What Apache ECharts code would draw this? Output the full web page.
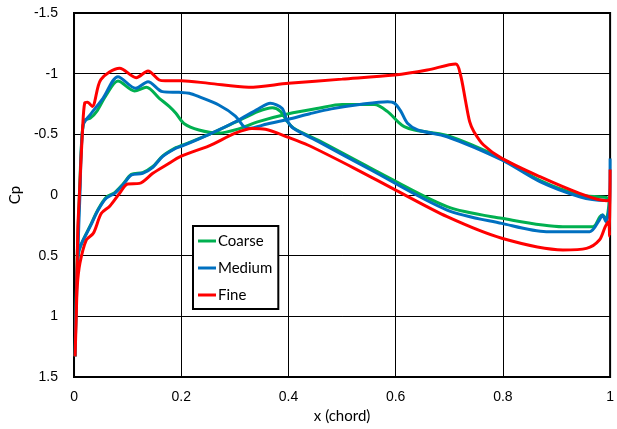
<!DOCTYPE html>
<html>
<head>
<meta charset="utf-8">
<script src="https://cdn.jsdelivr.net/npm/echarts@6/dist/echarts.min.js"></script>
<style>
html,body{margin:0;padding:0;background:#fff;}
#c{width:617px;height:429px;}
</style>
</head>
<body>
<div id="c"></div>
<script>
// Tick values
var xTicks = [0, 0.2, 0.4, 0.6, 0.8, 1];
var yTicks = [-1.5, -1, -0.5, 0, 0.5, 1, 1.5];
var seriesNames = ['Coarse', 'Medium', 'Fine'];

// Coarse grid: lower surface (LE -> TE), then upper surface (TE -> LE), [x, Cp]
var coarseLower = [
  [0.002,1.33],[0.005,0.72],[0.008,0.49],[0.014,0.40],[0.03,0.255],[0.045,0.118],[0.06,0.02],
  [0.076,-0.02],[0.091,-0.088],[0.107,-0.17],[0.128,-0.185],[0.147,-0.235],[0.165,-0.32],
  [0.19,-0.39],[0.202,-0.41],[0.252,-0.5],[0.301,-0.6],[0.344,-0.69],[0.37,-0.72],
  [0.385,-0.69],[0.397,-0.61],[0.41,-0.55],[0.456,-0.45],[0.554,-0.22],[0.696,0.096],
  [0.798,0.192],[0.912,0.261],[0.968,0.261],[0.981,0.179],[0.986,0.165],[0.992,0.2],[0.998,0.05]
];
var coarseUpper = [
  [0.993,0.02],[0.943,0.0],[0.869,-0.12],[0.798,-0.30],[0.696,-0.49],[0.635,-0.536],
  [0.616,-0.563],[0.604,-0.604],[0.585,-0.687],[0.56,-0.745],[0.5,-0.745],[0.456,-0.715],
  [0.4,-0.67],[0.344,-0.605],[0.307,-0.545],[0.27,-0.51],[0.233,-0.536],[0.205,-0.59],
  [0.19,-0.673],[0.178,-0.728],[0.159,-0.797],[0.135,-0.888],[0.113,-0.857],[0.082,-0.94],
  [0.06,-0.824],[0.042,-0.687],[0.03,-0.632],[0.02,-0.618],[0.015,-0.5],[0.01,0.0],
  [0.006,0.5],[0.003,1.1]
];

// Medium grid
var mediumLower = [
  [0.002,1.33],[0.005,0.7],[0.008,0.48],[0.014,0.40],[0.03,0.261],[0.045,0.124],[0.06,0.027],
  [0.076,-0.014],[0.091,-0.082],[0.107,-0.165],[0.128,-0.179],[0.147,-0.228],[0.165,-0.316],
  [0.19,-0.385],[0.202,-0.404],[0.252,-0.5],[0.301,-0.604],[0.344,-0.71],[0.366,-0.756],
  [0.388,-0.715],[0.397,-0.618],[0.409,-0.55],[0.456,-0.44],[0.554,-0.206],[0.696,0.124],
  [0.798,0.234],[0.881,0.302],[0.962,0.302],[0.98,0.206],[0.986,0.165],[0.992,0.22],[0.999,0.07]
];
var mediumUpper = [
  [1.0,-0.30],[0.999,0.04],[0.99,0.045],[0.943,0.014],[0.869,-0.11],[0.798,-0.289],
  [0.696,-0.48],[0.641,-0.536],[0.622,-0.591],[0.61,-0.687],[0.598,-0.756],[0.585,-0.769],
  [0.536,-0.748],[0.48,-0.71],[0.44,-0.67],[0.4,-0.625],[0.36,-0.585],[0.326,-0.55],
  [0.317,-0.563],[0.301,-0.651],[0.27,-0.742],[0.233,-0.81],[0.215,-0.838],[0.196,-0.846],
  [0.165,-0.852],[0.138,-0.934],[0.115,-0.88],[0.082,-0.975],[0.054,-0.797],[0.03,-0.66],
  [0.017,-0.577],[0.011,0.0],[0.007,0.5],[0.003,1.1]
];

// Fine grid
var fineLower = [
  [0.002,1.33],[0.004,1.03],[0.006,0.756],[0.011,0.563],[0.023,0.37],[0.036,0.316],
  [0.051,0.151],[0.067,0.09],[0.085,-0.014],[0.1,-0.091],[0.122,-0.096],[0.147,-0.179],
  [0.172,-0.247],[0.2,-0.32],[0.252,-0.405],[0.301,-0.51],[0.332,-0.548],[0.357,-0.542],
  [0.4,-0.475],[0.437,-0.41],[0.523,-0.22],[0.6,-0.04],[0.696,0.179],[0.798,0.357],
  [0.912,0.453],[0.956,0.44],[0.98,0.371],[0.991,0.26],[0.997,0.22],[0.999,0.34]
];
var fineUpper = [
  [1.0,-0.21],[0.999,0.04],[0.993,0.047],[0.943,-0.014],[0.869,-0.151],[0.798,-0.302],
  [0.764,-0.412],[0.746,-0.522],[0.738,-0.604],[0.730,-0.783],[0.721,-0.989],[0.712,-1.08],
  [0.659,-1.03],[0.598,-0.989],[0.5,-0.955],[0.4,-0.921],[0.326,-0.888],[0.252,-0.92],
  [0.2,-0.942],[0.17,-0.942],[0.159,-0.948],[0.138,-1.022],[0.116,-0.967],[0.085,-1.045],
  [0.05,-0.95],[0.034,-0.73],[0.025,-0.765],[0.02,-0.76],[0.016,-0.55],[0.01,0.0],
  [0.007,0.29],[0.004,1.0],[0.002,1.33]
];

var colors = ['#00B050', '#0070C0', '#FF0000'];
var seriesData = [
  coarseLower.concat(coarseUpper),
  mediumLower.concat(mediumUpper),
  fineLower.concat(fineUpper)
];

var chart = echarts.init(document.getElementById('c'), null, {renderer: 'canvas'});
var labelFont = {fontFamily: 'Liberation Sans', fontSize: 14, color: '#000'};
var option = {
  animation: false,
  backgroundColor: '#fff',
  grid: {left: 74, right: 3, top: 13, bottom: 52, show: true, borderColor: '#000', borderWidth: 2, backgroundColor: 'transparent'},
  legend: {
    data: seriesNames,
    orient: 'vertical',
    left: 193, top: 226,
    padding: [7, 6, 6, 5],
    itemGap: 11,
    itemWidth: 18, itemHeight: 3,
    icon: 'rect',
    borderColor: '#000', borderWidth: 2,
    backgroundColor: '#fff',
    textStyle: {fontFamily: 'Lato', fontSize: 15, color: '#000', lineHeight: 16, padding: [0,0,0,-3]}
  },
  xAxis: {
    type: 'value', min: 0, max: 1, interval: 0.2,
    name: 'x (chord)', nameLocation: 'middle', nameGap: 31,
    nameTextStyle: {fontFamily: 'Lato', fontSize: 15, color: '#000'},
    axisLine: {show: true, onZero: false, lineStyle: {color: '#000', width: 2}},
    axisTick: {show: false},
    axisLabel: Object.assign({margin: 13, formatter: function(v){ return String(xTicks[Math.round(v/0.2)]); }}, labelFont),
    splitLine: {show: true, lineStyle: {color: '#000', width: 1}}
  },
  yAxis: {
    type: 'value', min: -1.5, max: 1.5, interval: 0.5, inverse: true,
    name: 'Cp', nameLocation: 'middle', nameGap: 44,
    nameTextStyle: {fontFamily: 'Lato', fontSize: 15, color: '#000'},
    axisLine: {show: true, onZero: false, lineStyle: {color: '#000', width: 2}},
    axisTick: {show: false},
    axisLabel: Object.assign({margin: 16, formatter: function(v){ return String(yTicks[Math.round((v+1.5)/0.5)]); }}, labelFont),
    splitLine: {show: true, lineStyle: {color: '#000', width: 1}}
  },
  series: seriesNames.map(function(n, i){
    return {
      name: n, type: 'line', data: seriesData[i],
      showSymbol: false, smooth: 0.3,
      color: colors[i],
      lineStyle: {width: 3, color: colors[i]},
      z: 2 + i
    };
  })
};
chart.setOption(option);
</script>
</body>
</html>
